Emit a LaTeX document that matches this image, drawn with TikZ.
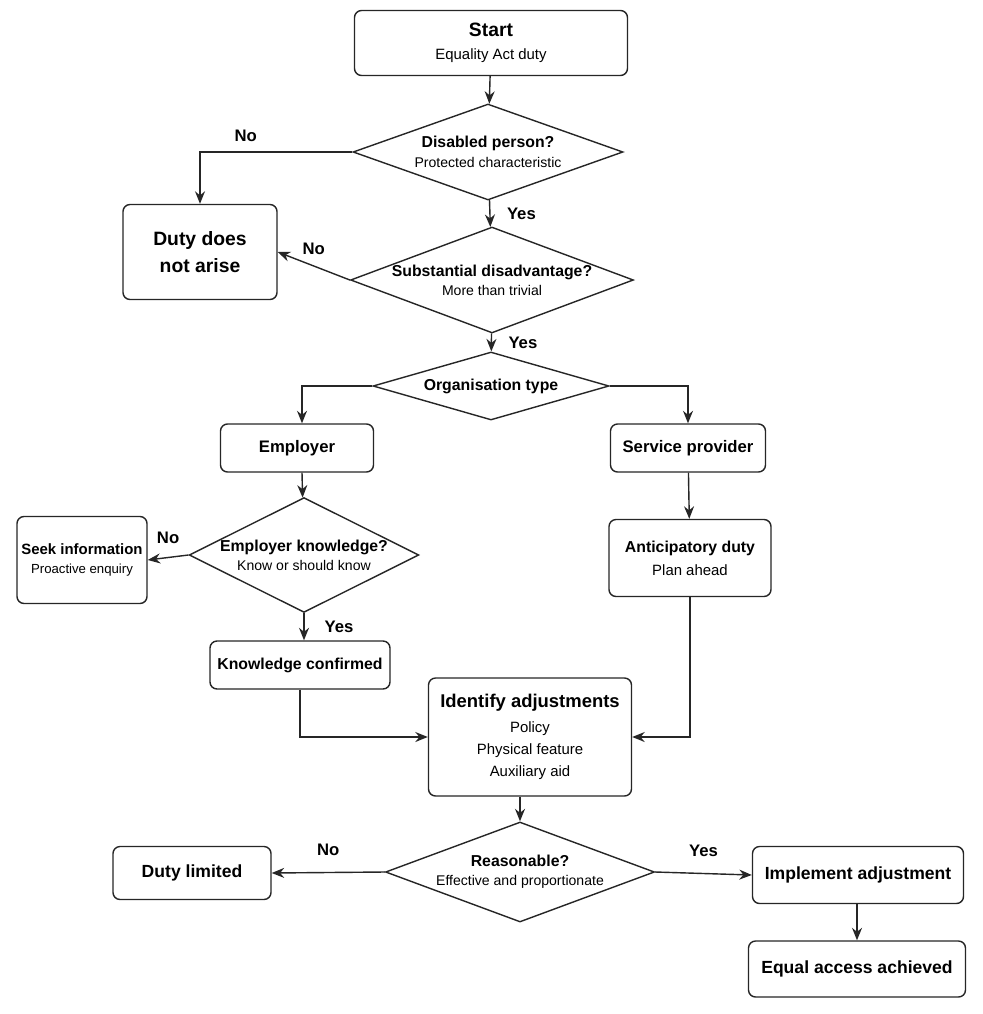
\documentclass[tikz,border=0pt]{standalone}
\usepackage{fontspec}
\setmainfont{Liberation Sans}
\usetikzlibrary{shapes.geometric, arrows.meta, positioning, calc}

\begin{document}
\begin{tikzpicture}[x=0.02cm, y=-0.02cm,
    box/.style={rectangle, rounded corners=4pt, draw=black!85, thick, fill=white, align=center, inner sep=2pt, font=\fontsize{8.5}{11}\selectfont},
    decision/.style={diamond, draw=black!85, thick, fill=white, align=center, inner sep=0pt, font=\fontsize{8}{11}\selectfont},
    arrow/.style={thick, draw=black!85, -{Stealth[length=2.5mm, width=2mm]}},
    lbl/.style={font=\bfseries\fontsize{9.5}{11}\selectfont}
]
\useasboundingbox (0,0) rectangle (983,1014);

% ===== BOXES =====
\node[box, minimum width=273*0.02cm, minimum height=65*0.02cm] (start) at (491,43) {{\bfseries\fontsize{11}{14}\selectfont Start}\\[2pt]Equality Act duty};
\node[box, minimum width=154*0.02cm, minimum height=95*0.02cm, font=\bfseries\fontsize{11}{15}\selectfont] (noduty) at (200,252) {Duty does\\not arise};
\node[box, minimum width=153*0.02cm, minimum height=48*0.02cm, font=\bfseries\fontsize{9.5}{11}\selectfont] (employer) at (297,448) {Employer};
\node[box, minimum width=155*0.02cm, minimum height=48*0.02cm, font=\bfseries\fontsize{9.5}{11}\selectfont] (service) at (688,448) {Service provider};
\node[box, minimum width=130*0.02cm, minimum height=87*0.02cm, font=\fontsize{7.5}{11}\selectfont] (seek) at (82,560) {{\bfseries\fontsize{8.5}{11}\selectfont Seek information}\\Proactive enquiry};
\node[box, minimum width=162*0.02cm, minimum height=77*0.02cm] (anticip) at (690,558) {{\bfseries\fontsize{9}{11}\selectfont Anticipatory duty}\\[2pt]Plan ahead};
\node[box, minimum width=180*0.02cm, minimum height=48*0.02cm, font=\bfseries\fontsize{9}{11}\selectfont] (knowconf) at (300,665) {Knowledge confirmed};
\node[box, minimum width=203*0.02cm, minimum height=118*0.02cm, font=\fontsize{8.5}{12.5}\selectfont] (identify) at (530,737) {{\bfseries\fontsize{10.5}{13}\selectfont Identify adjustments}\\[2pt]Policy\\Physical feature\\Auxiliary aid};
\node[box, minimum width=158*0.02cm, minimum height=53*0.02cm, font=\bfseries\fontsize{10}{12}\selectfont] (limited) at (192,873) {Duty limited};
\node[box, minimum width=211*0.02cm, minimum height=57*0.02cm, font=\bfseries\fontsize{10}{12}\selectfont] (implement) at (858,875) {Implement adjustment};
\node[box, minimum width=217*0.02cm, minimum height=56*0.02cm, font=\bfseries\fontsize{10}{12}\selectfont] (equal) at (857,969) {Equal access achieved};

% ===== DECISIONS =====
\node[decision, minimum width=270*0.02cm, minimum height=96*0.02cm, aspect=2.8] (disabled) at (488,152) {{\bfseries\fontsize{9}{11}\selectfont Disabled person?}\\Protected characteristic};
\node[decision, minimum width=267*0.02cm, minimum height=100*0.02cm, aspect=2.67] (disadv) at (492,280) {{\bfseries\fontsize{9}{11}\selectfont Substantial disadvantage?}\\More than trivial};
\node[decision, minimum width=236*0.02cm, minimum height=68*0.02cm, aspect=3.47, font=\bfseries\fontsize{9}{11}\selectfont] (orgtype) at (491,386) {Organisation type};
\node[decision, minimum width=228*0.02cm, minimum height=114*0.02cm, aspect=2] (knowledge) at (304,555) {{\bfseries\fontsize{9}{11}\selectfont Employer knowledge?}\\Know or should know};
\node[decision, minimum width=269*0.02cm, minimum height=100*0.02cm, aspect=2.69] (reasonable) at (520,872) {{\bfseries\fontsize{9}{11}\selectfont Reasonable?}\\Effective and proportionate};

% ===== CONNECTIONS =====
\draw[arrow] (start) -- (disabled);
\draw[arrow] (disabled.west) -| (noduty.north) node[lbl, pos=0.35, above=2pt] {No};
\draw[arrow] (disabled) -- (disadv) node[lbl, midway, right=6pt] {Yes};
\draw[arrow] (disadv.west) -- (noduty.east) node[lbl, midway, above=3pt] {No};
\draw[arrow] (disadv) -- (orgtype) node[lbl, midway, right=6pt] {Yes};
\draw[arrow] (orgtype.west) -| ([xshift=5*0.02cm]employer.north);
\draw[arrow] (orgtype.east) -| (service.north);
\draw[arrow] ([xshift=5*0.02cm]employer.south) -- (knowledge);
\draw[arrow] (service) -- (anticip);
\draw[arrow] (knowledge.west) -- (seek.east) node[lbl, midway, above=4pt] {No};
\draw[arrow] (knowledge.south) -- (knowledge.south |- knowconf.north) node[lbl, midway, right=8pt] {Yes};
\draw[arrow] (knowconf.south) |- (identify.west);
\draw[arrow] (anticip.south) |- (identify.east);
\draw[arrow] (identify.south -| reasonable.north) -- (reasonable.north);
\draw[arrow] (reasonable.west) -- (limited.east) node[lbl, midway, above=6pt] {No};
\draw[arrow] (reasonable.east) -- (implement.west) node[lbl, midway, above=6pt] {Yes};
\draw[arrow] (implement.south -| equal.north) -- (equal.north);

\end{tikzpicture}
\end{document}
